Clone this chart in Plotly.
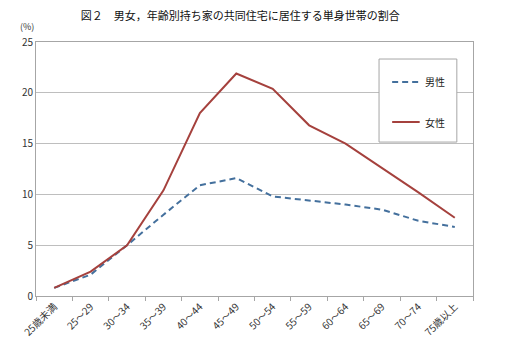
import plotly.graph_objects as go

categories = ["25歳未満", "25～29", "30～34", "35～39", "40～44", "45～49",
              "50～54", "55～59", "60～64", "65～69", "70～74", "75歳以上"]
male = [0.8, 2.1, 5.0, 8.0, 10.9, 11.6, 9.8, 9.4, 9.0, 8.5, 7.4, 6.8]
female = [0.8, 2.4, 5.0, 10.4, 18.0, 21.9, 20.4, 16.8, 15.0, 12.6, 10.2, 7.7]
y_ticks = [0, 5, 10, 15, 20, 25]
title_text = "図２　男女，年齢別持ち家の共同住宅に居住する単身世帯の割合"

male_color = "#44709D"
female_color = "#A5413D"
font_family = "Noto Sans CJK JP"

fig = go.Figure()
fig.add_trace(go.Scatter(x=categories, y=male, mode="lines", name="男性",
                         line=dict(color=male_color, width=2, dash="6px,4px"),
                         showlegend=False))
fig.add_trace(go.Scatter(x=categories, y=female, mode="lines", name="女性",
                         line=dict(color=female_color, width=2),
                         showlegend=False))

# manual legend box
fig.add_shape(type="rect", xref="paper", yref="paper",
              x0=0.785, x1=0.963, y0=0.606, y1=0.933,
              fillcolor="white", line=dict(color="#A6A6A6", width=1), layer="above")
for yy, col, dash, name in [(0.843, male_color, "6px,4px", "男性"),
                            (0.685, female_color, "solid", "女性")]:
    fig.add_shape(type="line", xref="paper", yref="paper",
                  x0=0.815, x1=0.878, y0=yy, y1=yy,
                  line=dict(color=col, width=2, dash=dash), layer="above")
    fig.add_annotation(xref="paper", yref="paper", x=0.885, y=yy, text=name,
                       showarrow=False, xanchor="left", yanchor="middle",
                       font=dict(size=10, color="#222", family=font_family))

fig.add_annotation(xref="paper", yref="paper", x=-0.02, y=1.0, yshift=16,
                   text="(%)", showarrow=False, xanchor="center", yanchor="middle",
                   font=dict(size=9, color="#333", family=font_family))

fig.update_layout(
    width=506, height=358,
    margin=dict(l=36, r=33, t=42, b=62, autoexpand=False),
    paper_bgcolor="white", plot_bgcolor="white",
    title=dict(text=title_text, x=0.475, xanchor="center", y=0.955, yanchor="middle",
               font=dict(size=11, color="#111", family=font_family)),
    font=dict(family=font_family, color="#333"),
)
fig.update_xaxes(type="category", range=[-0.5, len(categories) - 0.5],
                 showgrid=False, showline=True, linecolor="#A6A6A6",
                 linewidth=1, mirror=True, ticks="outside", tickson="boundaries",
                 ticklen=4, tickcolor="#A6A6A6", tickangle=-45, automargin=False,
                 tickfont=dict(size=10, color="#333", family=font_family))
fig.update_yaxes(range=[0, 25], tickvals=y_ticks, showgrid=True, gridcolor="#BEBEBE",
                 gridwidth=1, showline=True, linecolor="#A6A6A6", linewidth=1,
                 mirror=True, ticks="", zeroline=False, automargin=False,
                 tickfont=dict(size=10, color="#333", family=font_family))

fig.write_html("out.html", config={"displayModeBar": False},
               post_script="document.body.style.margin='0';document.body.style.overflow='hidden';")
